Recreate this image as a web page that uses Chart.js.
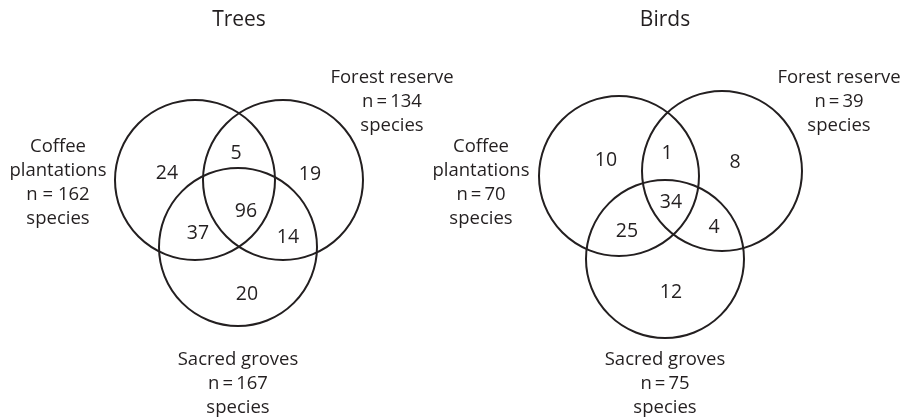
<!DOCTYPE html>
<html>
<head>
<meta charset="utf-8">
<script src="https://cdn.jsdelivr.net/npm/chart.js@4"></script>
<style>
  body { margin: 0; background: #fff; }
  #venn { display: block; }
</style>
</head>
<body>
<canvas id="venn" width="903" height="420"></canvas>
<script>
// data
const panelTitles = ['Trees', 'Birds'];
const setNames = ['Coffee plantations', 'Forest reserve', 'Sacred groves'];
const treeTotals = [162, 134, 167];
const birdTotals = [70, 39, 75];
// regions: coffee only, coffee+forest, forest only, all three, coffee+sacred, forest+sacred, sacred only
const regionKeys = ['C', 'CF', 'F', 'CFS', 'CS', 'FS', 'S'];
const treeCounts = [24, 5, 19, 96, 37, 14, 20];
const birdCounts = [10, 1, 8, 34, 25, 4, 12];

// layout (canvas pixel units, scales run 0..903 / 0..420)
const treeCircles = [
  { x: 195, y: 180, r: 80 },
  { x: 283, y: 180, r: 80 },
  { x: 238, y: 247, r: 79 }
];
const birdCircles = [
  { x: 619, y: 176, r: 80 },
  { x: 722, y: 171, r: 80 },
  { x: 665, y: 259, r: 79 }
];
const treeCountPos = [[167, 173], [236, 153], [310, 174], [246, 211], [198, 233], [288, 237], [247, 294]];
const birdCountPos = [[606, 160], [667, 153], [735, 162], [671, 202], [627, 231], [714, 227], [671, 292]];
const titlePos = [[239, 20], [665, 20]];
// label anchors: first line y, per set
const treeLabelPos = [[58, 147], [392, 78], [238, 360]];
const birdLabelPos = [[481, 147], [839, 78], [665, 360]];

const INK = '#231f20';
const FONT = '"Open Sans", sans-serif';

function labelLines(name, total, i) {
  const eq = (i === 0 && total > 100) ? 'n = ' : 'n\u2009=\u2009';
  if (i === 0) return [...name.split(' '), eq + total, 'species'];
  return [name, eq + total, 'species'];
}

function countPoints(pos, counts) {
  return pos.map((p, i) => ({ x: p[0], y: p[1], text: String(counts[i]) }));
}

// draws every text item from the data above
const textPlugin = {
  id: 'vennText',
  afterDatasetsDraw(chart) {
    const ctx = chart.ctx;
    const xs = chart.scales.x;
    const ys = chart.scales.y;
    ctx.save();
    ctx.fillStyle = INK;
    ctx.textAlign = 'center';
    ctx.textBaseline = 'middle';

    // region counts
    ctx.font = '19.5px ' + FONT;
    chart.data.datasets.forEach(ds => {
      if (ds.type !== 'scatter') return;
      ds.data.forEach(pt => {
        ctx.fillText(pt.text, xs.getPixelForValue(pt.x), ys.getPixelForValue(pt.y));
      });
    });

    // panel titles
    ctx.font = '21px ' + FONT;
    panelTitles.forEach((t, i) => {
      ctx.fillText(t, xs.getPixelForValue(titlePos[i][0]), ys.getPixelForValue(titlePos[i][1]));
    });

    // set labels
    ctx.font = '18.5px ' + FONT;
    [[treeLabelPos, treeTotals], [birdLabelPos, birdTotals]].forEach(([pos, totals]) => {
      setNames.forEach((name, i) => {
        labelLines(name, totals[i], i).forEach((ln, k) => {
          ctx.fillText(ln, xs.getPixelForValue(pos[i][0]), ys.getPixelForValue(pos[i][1] + k * 24));
        });
      });
    });
    ctx.restore();
  }
};

const circleStyle = {
  type: 'bubble',
  backgroundColor: 'rgba(0,0,0,0)',
  borderColor: INK,
  borderWidth: 2,
  hoverRadius: 0,
  hoverBorderWidth: 2,
  clip: false
};

new Chart(document.getElementById('venn'), {
  data: {
    datasets: [
      { ...circleStyle, label: 'Trees', data: treeCircles },
      { ...circleStyle, label: 'Birds', data: birdCircles },
      { type: 'scatter', label: 'Trees counts', data: countPoints(treeCountPos, treeCounts), pointRadius: 0 },
      { type: 'scatter', label: 'Birds counts', data: countPoints(birdCountPos, birdCounts), pointRadius: 0 }
    ]
  },
  options: {
    responsive: false,
    animation: false,
    events: [],
    layout: { padding: 0, autoPadding: false },
    scales: {
      x: { type: 'linear', min: 0, max: 903, display: false },
      y: { type: 'linear', min: 0, max: 420, reverse: true, display: false }
    },
    plugins: {
      legend: { display: false },
      tooltip: { enabled: false }
    }
  },
  plugins: [textPlugin]
});
</script>
</body>
</html>
